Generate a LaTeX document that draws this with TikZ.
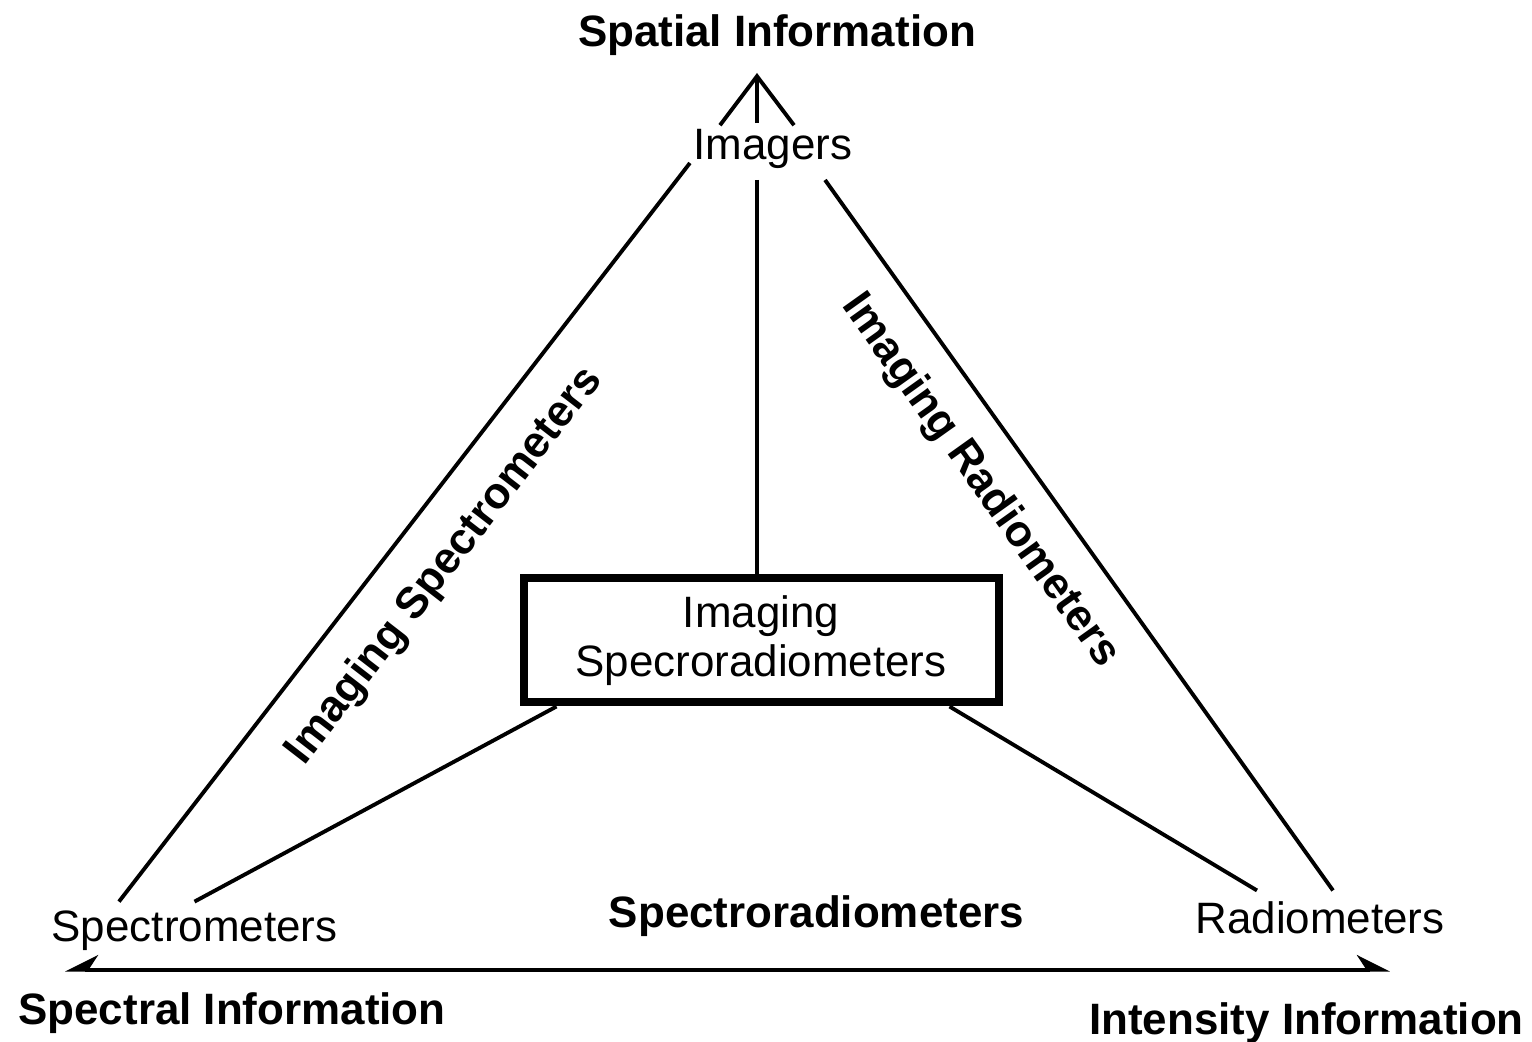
\documentclass[tikz,border=0pt]{standalone}
\usepackage{fontspec}
\setmainfont{Liberation Sans}
\usepackage{tikz}
\usetikzlibrary{arrows.meta,positioning,calc}

\begin{document}
\begin{tikzpicture}[
    x=1cm,y=1cm,
    axe/.style    = {inner sep=0pt,anchor=base,font=\fontsize{12.5}{15}\selectfont\bfseries},
    classe/.style = {inner sep=0pt,anchor=base,font=\fontsize{12.5}{15}\selectfont},
    diag/.style   = {inner sep=0pt,font=\fontsize{12.5}{15}\selectfont\bfseries},
    boite/.style  = {rectangle,draw=black,line width=0.08cm,fill=white,align=center,
                     font=\fontsize{12.5}{15}\selectfont,
                     minimum width=4.75cm,minimum height=1.24cm,inner sep=0pt},
    li/.style     = {black,line width=1.1pt},
    base/.style   = {black,line width=0.9pt},
  ]
  \useasboundingbox (0,0) rectangle (15.32,10.42);

  % ── Sommets et axes ───────────────────────────────────────────────────────
  \node[axe]    (spat)  at (7.77,9.95)  {Spatial Information};
  \node[classe] (img)   at (7.73,8.82)  {Imagers};
  \node[classe] (spec)  at (1.945,1.00) {Spectrometers};
  \node[classe] (rad)   at (13.20,1.08) {Radiometers};
  \node[axe]    (sprad) at (8.165,1.14) {Spectroradiometers};
  \node[axe]    (sinf)  at (2.32,0.17)  {Spectral Information};
  \node[axe]    (iinf)  at (13.065,0.07) {Intensity Information};

  \node[boite] (isr) at (7.61,4.015) {Imaging\\[-1pt]Specroradiometers};

  % ── Côtés du triangle ─────────────────────────────────────────────────────
  \draw[li] ([shift={(-0.03,-0.03)}]img.base west) -- ([shift={(0.68,0.09)}]spec.north west);
  \draw[li] ([shift={(-0.28,-0.20)}]img.base east) -- ([shift={(0.13,0.11)}]rad.north);

  \node[diag,rotate=52.3]  (lspec) at (4.45,4.76) {Imaging Spectrometers};
  \node[diag,rotate=-54.5] (lrad)  at (9.80,5.61) {Imaging Radiometers};

  % ── Liens vers la boîte centrale ──────────────────────────────────────────
  \coordinate (apex) at (7.57,9.69);
  \draw[li,-{Straight Barb[length=4.9mm,width=7.4mm,line width=1.1pt]}]
       ([yshift=0.06cm]img.north -| apex) -- (apex);
  \draw[li] ([yshift=-0.1cm]img.south -| apex) -- (isr.north -| apex);
  \draw[li] ([xshift=0.37cm]isr.south west) -- ([yshift=0.09cm]spec.north);
  \draw[li] ([xshift=-0.53cm]isr.south east) -- ([shift={(-0.63,0.11)}]rad.north);

  % ── Axe du bas ────────────────────────────────────────────────────────────
  \coordinate (gauche) at (0.65,0.72);
  \coordinate (droite) at (13.90,0.72);
  \draw[base,{Stealth[length=3mm,width=3mm,harpoon,swap]}-{Stealth[length=3mm,width=3mm,harpoon]}]
       (gauche) -- (droite);

\end{tikzpicture}
\end{document}
